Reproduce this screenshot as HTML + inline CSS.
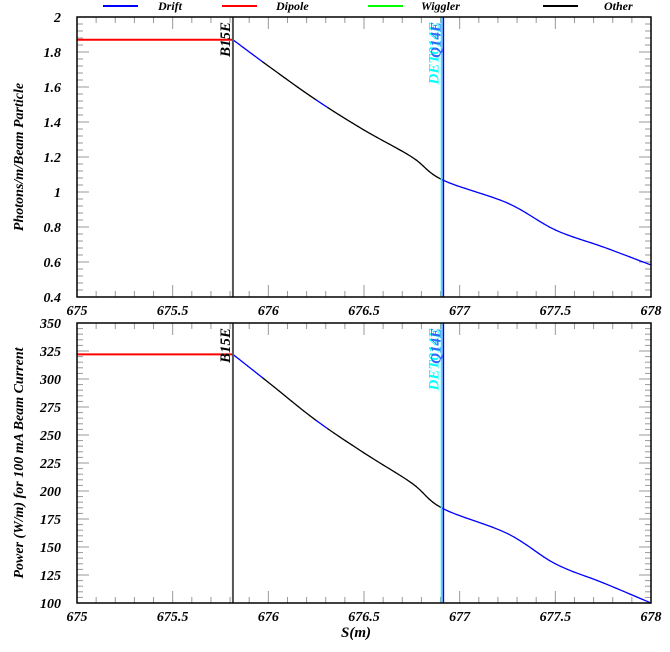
<!DOCTYPE html>
<html><head><meta charset="utf-8"><style>
body{margin:0;background:#fff}
svg text{font-family:"Liberation Serif",serif;font-style:italic;font-weight:bold}
</style></head><body>
<svg id="c" width="670" height="647" xmlns="http://www.w3.org/2000/svg">
<g>
<line x1="103" y1="6" x2="138" y2="6" stroke="#00f" stroke-width="2"/><text x="158" y="10" font-size="12">Drift</text>
<line x1="222" y1="6" x2="257" y2="6" stroke="#f00" stroke-width="2"/><text x="276" y="10" font-size="12">Dipole</text>
<line x1="368" y1="6" x2="403" y2="6" stroke="#0f0" stroke-width="2"/><text x="421" y="10" font-size="12">Wiggler</text>
<line x1="543" y1="6" x2="578" y2="6" stroke="#000" stroke-width="2"/><text x="604" y="10" font-size="12">Other</text>
</g>
</svg>
<script>
const sValues=[675.815,676,676.25,676.5,676.75,676.91,677.25,677.5,677.75,678];
const photonValues=[1.87,1.72,1.526,1.354,1.2,1.069,0.937,0.783,0.686,0.583];
const powerValues=[322,297,263,234,207,184.5,162,135,118,100];
const plateauPhoton=1.87, plateauPower=322;
const xTicks=[675,675.5,676,676.5,677,677.5,678];
const yTicksTop=[0.4,0.6,0.8,1,1.2,1.4,1.6,1.8,2];
const yTicksBot=[100,125,150,175,200,225,250,275,300,325,350];
const blackRanges=[[675.965,676.245],[676.31,676.91]];
const markers=[{s:675.815,name:"B15E",c:"#555"},{s:676.905,name:"DET014E",c:"#0ff"},{s:676.915,name:"Q14E",c:"#00f"}];
const svg=document.getElementById('c');const NS='http://www.w3.org/2000/svg';
function el(t,a,p){const e=document.createElementNS(NS,t);for(const k in a)e.setAttribute(k,a[k]);(p||svg).appendChild(e);return e;}
const X0=77,X1=651,sx=s=>X0+(s-675)/3*(X1-X0);
function cr(p0,p1,p2,p3,t){const t2=t*t,t3=t2*t;return 0.5*((2*p1)+(-p0+p2)*t+(2*p0-5*p1+4*p2-p3)*t2+(-p0+3*p1-3*p2+p3)*t3);}
function panel(top,bot,ymin,ymax,ticks,minorStep,vals,plat,ylabel,name,labelY){
 const g=el('g',{});
 
 
 const sy=v=>bot-(v-ymin)/(ymax-ymin)*(bot-top);
 for(let v=ymin;v<=ymax+1e-9;v+=minorStep){const y=sy(v);el('line',{x1:X0,x2:X0+6,y1:y,y2:y,stroke:'#999'},g);el('line',{x1:X1,x2:X1-6,y1:y,y2:y,stroke:'#999'},g);}
 ticks.forEach(v=>{const y=sy(v);el('line',{x1:X0,x2:X0+12,y1:y,y2:y,stroke:'#999'},g);el('line',{x1:X1,x2:X1-12,y1:y,y2:y,stroke:'#999'},g);
  const t=el('text',{x:X0-16,y:y+5,'font-size':14,'text-anchor':'end'},g);t.textContent=String(v);
  
  });
 for(let s=675;s<=678.001;s+=0.1){const x=sx(s);const maj=Math.abs(s*2-Math.round(s*2))<1e-6;const L=maj?12:6;el('line',{x1:x,x2:x,y1:bot,y2:bot-L,stroke:'#999'},g);el('line',{x1:x,x2:x,y1:top,y2:top+L,stroke:'#999'},g);}
 xTicks.forEach(s=>{const t=el('text',{x:sx(s),y:bot+18,'font-size':14,'text-anchor':'middle'},g);t.textContent=String(s);
  
  });
 const pl=el('line',{x1:X0,x2:sx(sValues[0]),y1:sy(plat),y2:sy(plat),stroke:'#f00',"stroke-width":2},g);
 
 
 const n=sValues.length;
 for(let i=0;i<n-1;i++){
  const i0=Math.max(0,i-1),i3=Math.min(n-1,i+2);
  for(let k=0;k<8;k++){
   const a=k/8,b=(k+1)/8;
   const s1=cr(sValues[i0],sValues[i],sValues[i+1],sValues[i3],a),s2=cr(sValues[i0],sValues[i],sValues[i+1],sValues[i3],b);
   const v1=cr(vals[i0],vals[i],vals[i+1],vals[i3],a),v2=cr(vals[i0],vals[i],vals[i+1],vals[i3],b);
   const sm=(s1+s2)/2;const blk=blackRanges.some(r=>sm>r[0]&&sm<r[1]);
   const ln=el('line',{x1:sx(s1),y1:sy(v1),x2:sx(s2),y2:sy(v2),stroke:blk?'#000':'#00f',"stroke-width":1.3,"stroke-linecap":"round"},g);
   
   
  }
 }
 markers.forEach(m=>{const x=sx(m.s);el('line',{x1:x,x2:x,y1:top,y2:bot,stroke:m.c,"stroke-width":m.name=='B15E'?2:1.5},g);});
 const lab=(txt,x,c)=>{const t=el('text',{x:0,y:0,'font-size':15,fill:c,transform:`translate(${x},${top+5}) rotate(-90)`,'text-anchor':'end'},g);t.textContent=txt;
  
  };
 lab('B15E',sx(markers[0].s)-3,'#000');lab('DET014E',sx(markers[1].s)-3,'#0ff');lab('Q14E',sx(markers[2].s)-3,'#36f');
 el('rect',{x:X0,y:top,width:X1-X0,height:bot-top,fill:'none',stroke:'#000',"stroke-width":1.5},g);
 const yl=el('text',{x:0,y:0,'font-size':14,'text-anchor':'middle',transform:`translate(${labelY},${(top+bot)/2}) rotate(-90)`},g);yl.textContent=ylabel;
 
 
}
panel(17,297,0.4,2,yTicksTop,0.04,photonValues,plateauPhoton,'Photons/m/Beam Particle','photon-panel',23);
panel(323,603,100,350,yTicksBot,5,powerValues,plateauPower,'Power (W/m) for 100 mA Beam Current','power-panel',23);
const xt=el('text',{x:356,y:637,'font-size':15,'text-anchor':'middle'});xt.textContent='S(m)';


</script>
</body></html>
